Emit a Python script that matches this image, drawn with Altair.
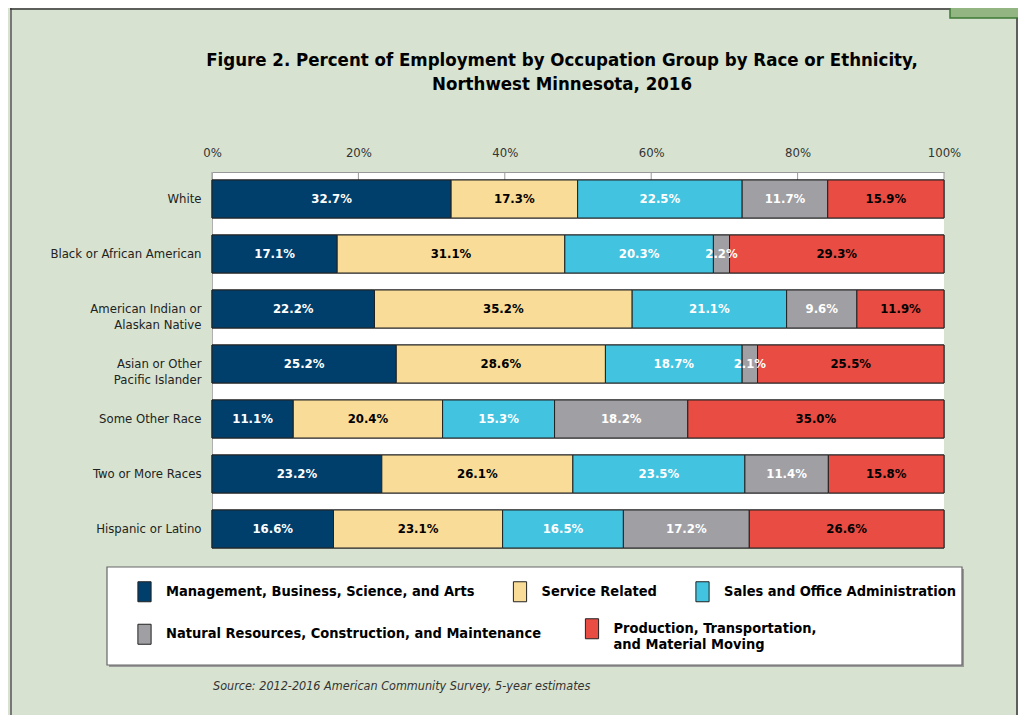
import altair as alt
import pandas as pd

FONT = "DejaVu Sans Condensed, Liberation Sans Narrow, sans-serif"

races = ["White", "Black or African American", "American Indian or Alaskan Native",
         "Asian or Other Pacific Islander", "Some Other Race", "Two or More Races",
         "Hispanic or Latino"]
race_labels = ["White", "Black or African American", "American Indian or |Alaskan Native",
               "Asian or Other |Pacific Islander", "Some Other Race", "Two or More Races",
               "Hispanic or Latino"]
groups = ["Management, Business, Science, and Arts", "Service Related",
          "Sales and Office Administration",
          "Natural Resources, Construction, and Maintenance",
          "Production, Transportation, and Material Moving"]
management = [32.7, 17.1, 22.2, 25.2, 11.1, 23.2, 16.6]
service = [17.3, 31.1, 35.2, 28.6, 20.4, 26.1, 23.1]
sales = [22.5, 20.3, 21.1, 18.7, 15.3, 23.5, 16.5]
natural = [11.7, 2.2, 9.6, 2.1, 18.2, 11.4, 17.2]
production = [15.9, 29.3, 11.9, 25.5, 35.0, 15.8, 26.6]
colors = ["#003f6b", "#f8dc97", "#42c3e0", "#a0a0a4", "#e84c43"]
label_colors = ["white", "black", "white", "white", "black"]
x_ticks = [0, 20, 40, 60, 80, 100]
title_lines = ["Figure 2. Percent of  Employment by Occupation Group by Race or Ethnicity,",
               "Northwest Minnesota, 2016"]
source_text = "Source: 2012-2016 American Community Survey, 5-year estimates"

series = [management, service, sales, natural, production]
rows = []
for gi, (g, vals) in enumerate(zip(groups, series)):
    for ri, r in enumerate(races):
        rows.append({"race": r, "group": g, "value": vals[ri], "order": gi,
                     "lc": label_colors[gi], "label": f"{vals[ri]:.1f}%"})
df = pd.DataFrame(rows)

label_map = "{" + ",".join(f"'{r}': '{l}'" for r, l in zip(races, race_labels)) + "}"

base = alt.Chart(df).transform_stack(
    stack="value", groupby=["race"], as_=["x0", "x1"],
    sort=[alt.SortField("order", order="ascending")], offset="normalize"
).transform_calculate(mid="(datum.x0 + datum.x1) / 2")

yscale = alt.Scale(paddingInner=0.309, paddingOuter=0.0727, align=1)
xscale = alt.Scale(domain=[0, 1])

yenc = alt.Y("race:N", sort=races, scale=yscale, title=None,
             axis=alt.Axis(ticks=False, domainColor="#b0b0b0", labelFont=FONT,
                           labelFontSize=13, labelColor="#222", labelPadding=11,
                           labelLimit=300, labelLineHeight=16,
                           labelExpr=f"split({label_map}[datum.label], '|')"))
xenc = alt.X("x0:Q", scale=xscale, title=None,
             axis=alt.Axis(orient="top", format=".0%", values=[v / 100 for v in x_ticks],
                           ticks=False, grid=False, domainColor="#999",
                           labelFont=FONT, labelFontSize=13, labelColor="#333",
                           labelPadding=13, labelFlush=False))


def legend_for(values, lx, ly, cp):
    return alt.Legend(
        title=None, orient="none", legendX=lx, legendY=ly, values=values,
        direction="horizontal", padding=0,
        symbolType="M-0.66,-1H0.66V1H-0.66Z", symbolSize=400,
        symbolStrokeColor="#222", symbolStrokeWidth=1, symbolOpacity=1,
        labelFont=FONT, labelFontSize=14.5, labelFontWeight="bold",
        labelColor="black", labelLimit=500, labelOffset=11, columnPadding=cp,
        labelExpr="datum.label == 'Production, Transportation, and Material Moving' ? ['Production, Transportation,', 'and Material Moving'] : datum.label")


bars1 = base.mark_bar(stroke="#222", strokeWidth=1).encode(
    y=yenc, x=xenc, x2="x1:Q",
    color=alt.Color("group:N", scale=alt.Scale(domain=groups, range=colors),
                    legend=legend_for(groups[:3], -78, 409, 34.5)),
    order=alt.Order("order:Q"),
)
bars2 = base.mark_bar(stroke="#222", strokeWidth=1).encode(
    y=yenc, x=xenc, x2="x1:Q",
    color=alt.Color("group:N", scale=alt.Scale(domain=groups, range=colors),
                    legend=legend_for(groups[3:], -78, 446, 40.5)),
    order=alt.Order("order:Q"),
)

texts = base.mark_text(font=FONT, fontSize=13, fontWeight="bold").encode(
    y=alt.Y("race:N", sort=races, scale=yscale),
    x=alt.X("mid:Q", scale=xscale),
    text="label:N",
    color=alt.Color("lc:N", scale=None),
)

ticks = alt.Chart(pd.DataFrame({"t": [v / 100 for v in x_ticks]})).mark_rule(
    color="#999", strokeWidth=1).encode(
    x=alt.X("t:Q", scale=xscale), y=alt.value(0), y2=alt.value(8))

dummy = pd.DataFrame({"a": [0]})
title = alt.Chart(dummy).mark_text(
    text=title_lines, font=FONT, fontWeight="bold", fontSize=18.5, color="black",
    align="center", baseline="middle", lineHeight=24).encode(
    x=alt.value(350), y=alt.value(-112))

source = alt.Chart(dummy).mark_text(
    text=source_text, font=FONT, fontStyle="italic", fontSize=12.5, color="#333",
    align="left", baseline="middle").encode(x=alt.value(1), y=alt.value(514))

legend_shadow = alt.Chart(dummy).mark_rect(color="#999").encode(
    x=alt.value(-103), x2=alt.value(752), y=alt.value(397), y2=alt.value(495))
legend_box = alt.Chart(dummy).mark_rect(fill="white", stroke="#666", strokeWidth=1.2).encode(
    x=alt.value(-105), x2=alt.value(750), y=alt.value(395), y2=alt.value(493))

left_border = alt.Chart(dummy).mark_rule(color="#777", strokeWidth=2).encode(
    x=alt.value(-201), y=alt.value(-164), y2=alt.value(543))
top_border = alt.Chart(dummy).mark_rule(color="#333", strokeWidth=1.5).encode(
    x=alt.value(-202), x2=alt.value(738), y=alt.value(-163))
right_border = alt.Chart(dummy).mark_rule(color="#333", strokeWidth=1.5).encode(
    x=alt.value(805), y=alt.value(-164), y2=alt.value(543))
corner = alt.Chart(dummy).mark_rect(fill="#92b582", stroke="#3d7a35", strokeWidth=1.5).encode(
    x=alt.value(738), x2=alt.value(808), y=alt.value(-166), y2=alt.value(-154))

chart = alt.layer(legend_shadow, legend_box, ticks, bars1, bars2, texts, title, source,
                  left_border, top_border, right_border, corner).resolve_scale(
    color="independent"
).properties(
    width=732, height=376,
    autosize=alt.AutoSizeParams(type="none"),
    padding={"left": 204, "top": 164, "right": 74, "bottom": 167},
    background="#d7e3d0",
).configure_view(stroke=None, fill="white")

chart.save("out.html", embed_options={"renderer": "svg", "actions": False})
